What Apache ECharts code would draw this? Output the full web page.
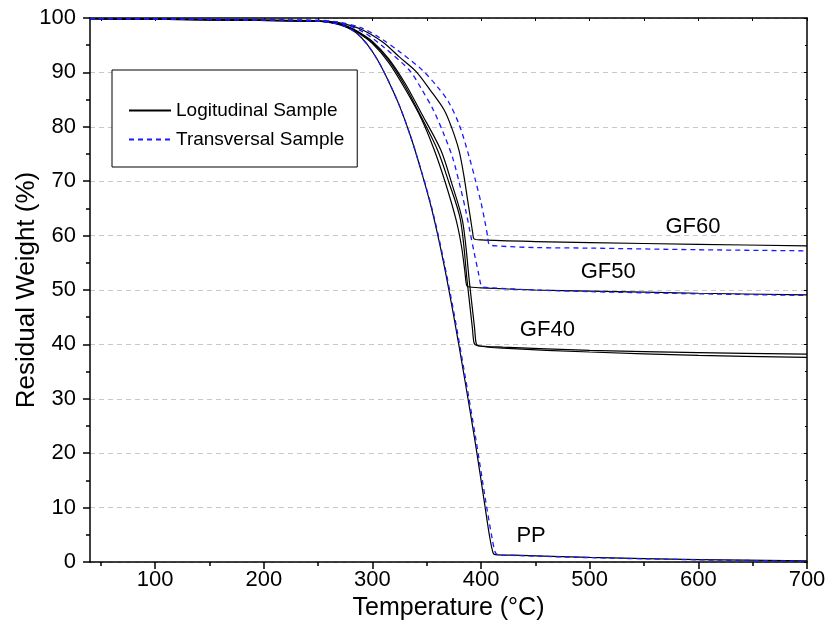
<!DOCTYPE html>
<html>
<head>
<meta charset="utf-8">
<script src="https://cdn.jsdelivr.net/npm/echarts@6/dist/echarts.min.js"></script>
<style>html,body{margin:0;padding:0;background:#fff}#c{width:830px;height:634px}</style>
</head>
<body>
<div id="c"></div>
<script>
// ---- data: [temperature (°C), residual weight (%)] ----
const ppLong = [[40,99.9],[100,99.8],[200,99.6],[250,99.4],[265,99.0],[275,98.4],[285,97.3],[295,95.2],[305,92.2],[315,88.3],[325,83.8],[335,78.3],[345,71.8],[355,64.5],[365,55.5],[375,45.0],[385,33.5],[395,21.5],[403,11.0],[408,4.5],[411,1.7],[413,1.35],[430,1.25],[500,0.85],[600,0.45],[700,0.2]];
const ppTrans = [[40,99.9],[100,99.8],[200,99.6],[250,99.4],[265,99.0],[275,98.4],[285,97.3],[295,95.2],[305,92.2],[315,88.3],[325,83.8],[335,78.3],[345,71.9],[355,64.8],[365,56.0],[375,45.8],[385,34.5],[395,22.8],[404,11.5],[410,4.5],[413,1.8],[416,1.3],[430,1.2],[500,0.8],[600,0.4],[700,0.15]];
const gf40LongA = [[40,99.9],[250,99.4],[265,99.1],[275,98.5],[285,97.6],[300,95.5],[315,92.2],[330,87.5],[345,81.8],[360,75.7],[370,70.0],[381,62.9],[387.5,51.0],[392,43.0],[393.5,40.3],[396,39.8],[420,39.5],[500,38.9],[600,38.5],[700,38.2]];
const gf40LongB = [[40,99.9],[250,99.4],[265,99.1],[275,98.6],[285,97.7],[300,95.7],[315,92.5],[330,88.0],[345,82.5],[363,75.7],[373,69.6],[383,62.6],[389.5,51.0],[394,43.0],[395.5,40.2],[398,39.7],[420,39.3],[500,38.6],[600,38.0],[700,37.6]];
const gf50Long = [[40,99.9],[250,99.4],[265,99.1],[275,98.5],[285,97.5],[300,95.3],[315,91.8],[330,87.0],[345,81.5],[357,75.7],[367,69.8],[377,62.9],[382,58.0],[385,53.5],[386.5,51.0],[388,50.6],[400,50.4],[450,50.0],[500,49.8],[600,49.4],[700,49.1]];
const gf50Trans = [[40,99.9],[250,99.5],[270,99.1],[290,97.6],[310,94.7],[334,90.4],[345,87.0],[356,83.1],[366,78.5],[374,74.2],[381,68.8],[386,64.5],[390,60.5],[394,56.5],[397.5,53.2],[399.5,51.2],[401,50.6],[410,50.4],[450,50.0],[500,49.7],[600,49.3],[700,49.0]];
const gf60Long = [[40,99.9],[250,99.5],[270,99.1],[290,97.9],[310,95.5],[325,92.8],[340,90.2],[353,86.8],[366,83.1],[373,79.8],[379.6,75.7],[384,71.2],[388,66.0],[390.5,62.8],[392.3,60.5],[393.5,59.4],[400,59.2],[450,58.9],[500,58.7],[600,58.4],[700,58.1]];
const gf60Trans = [[40,99.9],[250,99.6],[270,99.2],[290,98.2],[308,96.2],[325,93.8],[346,90.4],[360,87.3],[370,84.6],[380,80.3],[389,74.5],[395,70.0],[400,66.0],[403.5,62.6],[406,59.9],[407.5,58.4],[415,58.1],[450,57.8],[500,57.7],[600,57.4],[700,57.2]];

const xMajorTicks = [100,200,300,400,500,600,700];
const xMinorTicks = [50,150,250,350,450,550,650];
const xTopTicks = [50,100,150,200,250,300,350,400,450,500,550,600,650,700];
const curveLabels = [
  {text:'GF60', x:595, y:61.6},
  {text:'GF50', x:517, y:53.3},
  {text:'GF40', x:461, y:42.6},
  {text:'PP',   x:446, y:4.8}
];
const longName = 'Logitudinal Sample';
const transName = 'Transversal Sample';

const FONT = '"Liberation Sans", Arial, sans-serif';
const chart = echarts.init(document.getElementById('c'), null, {renderer:'canvas'});

function mk(name, data, trans){
  return {
    name: name, type:'line', data:data, xAxisIndex:0, yAxisIndex:0,
    symbol:'none', smooth:0.3, animation:false,
    lineStyle: trans ? {color:'#1a1aff', width:1.3, type:[5,4]} : {color:'#000', width:1.2, type:'solid'},
    itemStyle: {color: trans ? '#1a1aff' : '#000'},
    z: trans ? 3 : 2
  };
}

const axisLine = {show:true, lineStyle:{color:'#000', width:1.5}};
const option = {
  animation:false,
  backgroundColor:'#fff',
  grid:{left:90, right:23, top:18, bottom:72, containLabel:false, outerBoundsMode:'none'},
  legend:{
    orient:'vertical', left:112, top:70,
    data:[{name:longName},{name:transName}],
    itemWidth:42, itemHeight:14, itemGap:10,
    padding:[31,13,18,16],
    borderColor:'#000', borderWidth:1, backgroundColor:'#fff',
    itemStyle:{opacity:0},
    textStyle:{fontFamily:FONT, fontSize:19, color:'#000'},
    selectedMode:false
  },
  xAxis:[
    {type:'value', min:40, max:700, position:'bottom',
     name:'Temperature (°C)', nameLocation:'middle', nameGap:34, nameMoveOverlap:false,
     nameTextStyle:{fontFamily:FONT, fontSize:25, color:'#000'},
     axisLine:axisLine,
     axisTick:{show:true, inside:false, length:7, customValues:xMajorTicks, lineStyle:{color:'#000', width:1.5}},
     axisLabel:{show:true, customValues:xMajorTicks, margin:7, fontFamily:FONT, fontSize:22, color:'#000'},
     splitLine:{show:false}},
    {type:'value', min:40, max:700, position:'bottom',
     axisLine:{show:false},
     axisTick:{show:true, inside:false, length:4, customValues:xMinorTicks, lineStyle:{color:'#000', width:1.5}},
     axisLabel:{show:false}, splitLine:{show:false}},
    {type:'value', min:40, max:700, position:'top',
     axisLine:axisLine,
     axisTick:{show:true, inside:true, length:3, customValues:xTopTicks, lineStyle:{color:'#000', width:1}},
     axisLabel:{show:false}, splitLine:{show:false}}
  ],
  yAxis:[
    {type:'value', min:0, max:100, interval:10, position:'left',
     name:'Residual Weight (%)', nameLocation:'middle', nameGap:50, nameMoveOverlap:false,
     nameTextStyle:{fontFamily:FONT, fontSize:26, color:'#000'},
     axisLine:axisLine,
     axisTick:{show:true, inside:false, length:7, lineStyle:{color:'#000', width:1.5}},
     minorTick:{show:true, splitNumber:2, length:4, lineStyle:{color:'#000', width:1.5}},
     axisLabel:{margin:14, fontFamily:FONT, fontSize:22, color:'#000'},
     splitLine:{show:true, lineStyle:{color:'#c8c8c8', width:1, type:[5,4]}}},
    {type:'value', min:0, max:100, interval:10, position:'right',
     axisLine:axisLine,
     axisTick:{show:true, inside:true, length:3, lineStyle:{color:'#000', width:1}},
     minorTick:{show:true, splitNumber:2, length:2, lineStyle:{color:'#000', width:1}},
     axisLabel:{show:false}, splitLine:{show:false}}
  ],
  series:[
    mk(longName, ppLong, false),
    mk(transName, ppTrans, true),
    mk(longName, gf40LongA, false),
    mk(longName, gf40LongB, false),
    mk(longName, gf50Long, false),
    mk(transName, gf50Trans, true),
    mk(longName, gf60Long, false),
    mk(transName, gf60Trans, true)
  ]
};
chart.setOption(option);

const texts = curveLabels.map(function(l){
  const p = chart.convertToPixel({xAxisIndex:0, yAxisIndex:0}, [l.x, l.y]);
  return {type:'text', x:p[0], y:p[1], z:10,
    style:{text:l.text, fontFamily:FONT, fontSize:22, fill:'#000', align:'center', verticalAlign:'middle'}};
});
chart.setOption({graphic:texts});
</script>
</body>
</html>
